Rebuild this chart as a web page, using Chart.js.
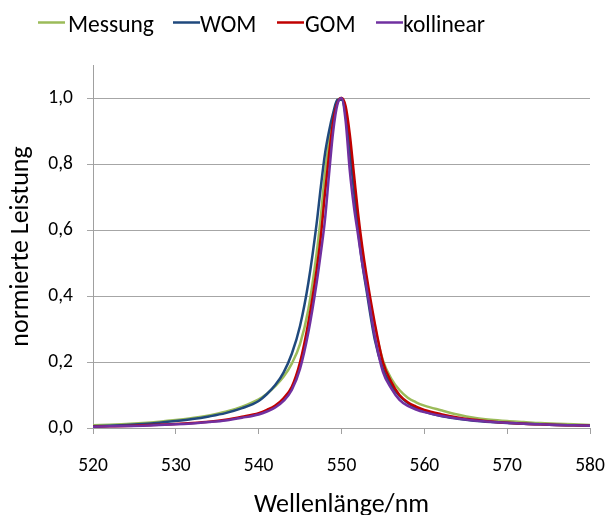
<!DOCTYPE html>
<html>
<head>
<meta charset="utf-8">
<script src="https://cdn.jsdelivr.net/npm/chart.js@4/dist/chart.umd.min.js"></script>
<style>
html,body{margin:0;padding:0;background:#fff;}
#wrap{width:609px;height:515px;}
</style>
</head>
<body>
<div id="wrap"><canvas id="c" width="609" height="515"></canvas></div>
<script>
const wavelengths = [520,522,524,526,528,530,532,534,536,538,540,541,542,543,544,545,546,547,547.5,548,548.5,549,549.5,550,550.5,551,551.5,552,552.5,553,554,555,556,557,558,559,560,562,564,566,568,570,572,574,576,578,580];
const messung   = [0.008,0.010,0.012,0.015,0.019,0.024,0.030,0.038,0.049,0.065,0.087,0.104,0.127,0.155,0.195,0.255,0.360,0.530,0.640,0.770,0.870,0.945,0.990,1.000,0.960,0.870,0.750,0.630,0.530,0.450,0.310,0.205,0.150,0.115,0.092,0.078,0.068,0.054,0.041,0.031,0.025,0.021,0.018,0.015,0.013,0.011,0.009];
const wom       = [0.005,0.007,0.009,0.012,0.016,0.021,0.027,0.035,0.045,0.060,0.082,0.103,0.130,0.168,0.225,0.310,0.440,0.620,0.730,0.830,0.900,0.955,0.995,0.995,0.950,0.840,0.720,0.600,0.500,0.420,0.270,0.180,0.130,0.097,0.076,0.061,0.050,0.036,0.028,0.022,0.018,0.015,0.013,0.011,0.009,0.008,0.007];
const gom       = [0.004,0.005,0.006,0.008,0.010,0.012,0.015,0.019,0.025,0.034,0.045,0.055,0.068,0.090,0.125,0.200,0.320,0.480,0.580,0.710,0.830,0.930,0.985,1.000,0.975,0.890,0.770,0.650,0.550,0.465,0.320,0.200,0.140,0.100,0.078,0.065,0.055,0.042,0.032,0.025,0.020,0.016,0.013,0.011,0.009,0.008,0.007];
const kollinear = [0.004,0.005,0.006,0.007,0.009,0.011,0.014,0.018,0.023,0.031,0.041,0.050,0.062,0.082,0.115,0.180,0.290,0.440,0.530,0.630,0.770,0.900,0.980,1.000,0.930,0.780,0.670,0.585,0.500,0.430,0.280,0.170,0.120,0.085,0.067,0.056,0.048,0.037,0.029,0.023,0.019,0.016,0.013,0.011,0.009,0.008,0.007];
const seriesNames = ['Messung','WOM','GOM','kollinear'];
const seriesColors = ['#9BBB59','#1F497D','#C00000','#7030A0'];
const yTicks = [0,0.2,0.4,0.6,0.8,1.0];
const xTicks = [520,530,540,550,560,570,580];

const FONT = "Carlito, Lato, 'Open Sans', sans-serif";
const seriesValues = [messung, wom, gom, kollinear];

function pts(vals){ return wavelengths.map((w,i)=>({x:w,y:vals[i]})); }

const legendPlugin = {
  id:'customLegend',
  afterDraw(chart){
    const ctx = chart.ctx;
    const lineStarts = [38,173,277,376];
    const textStarts = [68,200,305,403];
    ctx.save();
    ctx.font = "23.5px " + FONT;
    ctx.textBaseline = 'alphabetic';
    seriesNames.forEach((n,i)=>{
      ctx.strokeStyle = seriesColors[i];
      ctx.lineWidth = 2.5;
      ctx.beginPath();
      ctx.moveTo(lineStarts[i], 22.5);
      ctx.lineTo(lineStarts[i]+27, 22.5);
      ctx.stroke();
      ctx.fillStyle = '#000';
      ctx.fillText(n, textStarts[i], 32);
    });
    ctx.restore();
  }
};

new Chart(document.getElementById('c'), {
  type:'line',
  data:{
    datasets: seriesNames.map((n,i)=>({
      label:n,
      data: pts(seriesValues[i]),
      borderColor: seriesColors[i],
      backgroundColor: seriesColors[i],
      borderWidth: 2.5,
      pointRadius: 0,
      cubicInterpolationMode:'monotone',
      fill:false,
      order: 3-i
    }))
  },
  options:{
    responsive:false,
    animation:false,
    devicePixelRatio:1,
    layout:{padding:{top:65,right:19,left:0,bottom:0}},
    plugins:{legend:{display:false},tooltip:{enabled:false}},
    scales:{
      x:{
        type:'linear', min:520, max:580,
        afterBuildTicks(s){ s.ticks = xTicks.map(v=>({value:v})); },
        afterFit(s){ s.height = 87; s.paddingLeft = 0; s.paddingRight = 0; },
        grid:{drawOnChartArea:false, drawTicks:true, tickLength:6, color:'#a0a0a0'},
        border:{display:true,color:'#a0a0a0'},
        ticks:{font:{family:FONT,size:19.5},color:'#000',padding:20, maxRotation:0,
          callback:v=>String(v)},
        title:{display:true,text:'Wellenlänge/nm',font:{family:FONT,size:26},color:'#000',padding:{top:0,bottom:-6}}
      },
      y:{
        min:0, max:1.1,
        afterBuildTicks(s){ s.ticks = yTicks.map(v=>({value:v})); },
        afterFit(s){ s.width = 93; s.paddingTop = 0; s.paddingBottom = 0; },
        grid:{drawOnChartArea:true, drawTicks:true, tickLength:6, color:'#a6a6a6'},
        border:{display:true,color:'#a0a0a0'},
        ticks:{font:{family:FONT,size:19.5},color:'#000',padding:14,
          callback:v=>v.toFixed(1).replace('.',',')},
        title:{display:true,text:'normierte Leistung',font:{family:FONT,size:26},color:'#000',padding:{top:6,bottom:0}}
      }
    }
  },
  plugins:[legendPlugin]
});
</script>
</body>
</html>
